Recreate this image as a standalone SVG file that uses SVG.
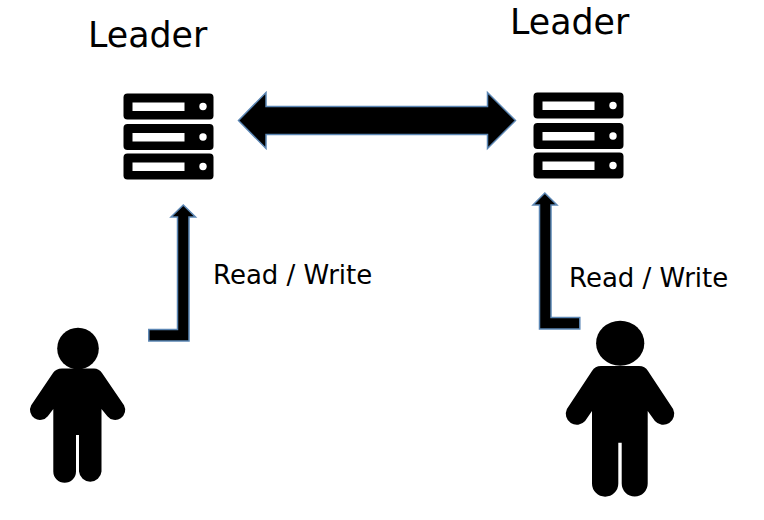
<svg xmlns="http://www.w3.org/2000/svg" width="764" height="520" viewBox="0 0 764 520">
<style>
text{font-family:"DejaVu Sans",sans-serif;fill:#000}
.l{font-size:34.800px}
.r{font-size:26px}
.a{fill:#000;stroke:#5b86b4;stroke-width:1.500;stroke-linejoin:miter}
.w{fill:#fff}
</style>
<defs>
<g id="srv">
<rect x="0" y="0" width="90" height="26" rx="4"/>
<rect x="9" y="9" width="52" height="8.500" class="w"/>
<circle cx="79.500" cy="13" r="3.700" class="w"/>
</g>
</defs>
<rect width="764" height="520" fill="#fff"/>
<g id="connectors">
<path id="link" class="a" d="M238.500 120.500L266 92.500V106.500H487.500V92.500L515.500 120.500L487.500 148.500V134.500H266V148.500Z"/>
<path id="left-rw" class="a" d="M183.300 205L195.500 217H189V341H148.800V329.500H177.500V217H171Z"/>
<path id="right-rw" class="a" d="M544.800 193L557 205H551V317.500H579.800V329H539.500V205H533Z"/>
</g>
<g id="server-left">
<use href="#srv" x="123.500" y="93.500"/>
<use href="#srv" x="123.500" y="124"/>
<use href="#srv" x="123.500" y="153.500"/>
<text class="l" x="88" y="47">Leader</text>
</g>
<g id="server-right">
<use href="#srv" x="533.500" y="92.500"/>
<use href="#srv" x="533.500" y="123"/>
<use href="#srv" x="533.500" y="152.500"/>
<text class="l" x="510" y="34">Leader</text>
</g>
<g id="client-left">
<circle cx="78" cy="348.500" r="20.800"/>
<path d="M62 368.500H94Q99 368.500 102 373L124 405.200A10 10 0 0 1 107.400 416.200L101.500 409V471.500A11.300 11.300 0 0 1 79 471.500V435H76V471.500A11.300 11.300 0 0 1 53.300 471.500V409L47.800 416.200A10 10 0 0 1 31.200 405.200L53 373Q56 368.500 62 368.500Z"/>
<text class="r" x="213" y="284">Read / Write</text>
</g>
<g id="client-right">
<ellipse cx="620.200" cy="343.200" rx="24.100" ry="22.500"/>
<path d="M601 366H639Q645 366 648 371L673.100 409A11 11 0 0 1 654.900 421L647.700 411V483.500A13 13 0 0 1 621.700 483.500V442.700H618.300V483.500A13 13 0 0 1 592 483.500V411L585.100 421A11 11 0 0 1 566.900 409L592 371Q595 366 601 366Z"/>
<text class="r" x="569" y="287">Read / Write</text>
</g>
</svg>
